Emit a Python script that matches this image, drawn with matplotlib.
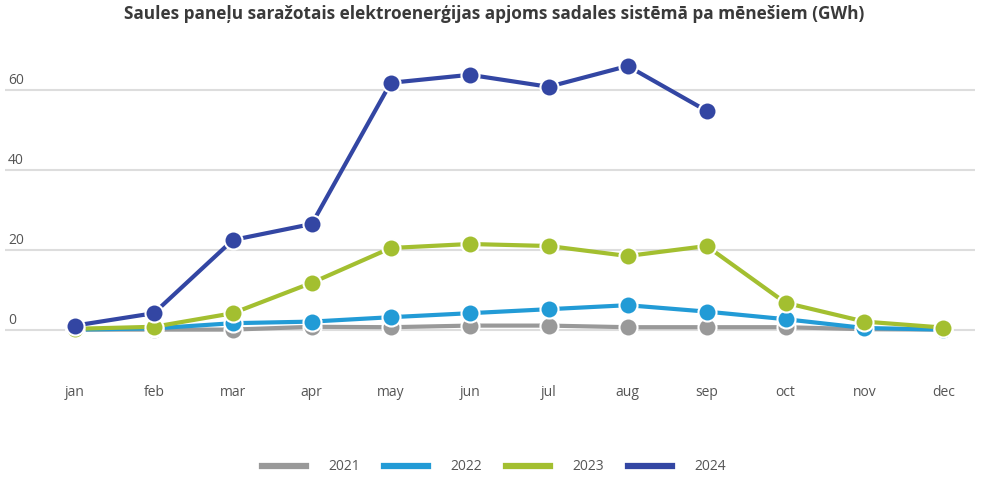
import matplotlib
matplotlib.use("Agg")
import matplotlib.pyplot as plt
import matplotlib.transforms as mtransforms

months = ["jan", "feb", "mar", "apr", "may", "jun", "jul", "aug", "sep", "oct", "nov", "dec"]
years = ["2021", "2022", "2023", "2024"]
v2021 = [0.1, 0.1, 0.1, 0.8, 0.7, 1.1, 1.1, 0.7, 0.7, 0.7, 0.2, 0.1]
v2022 = [0.1, 0.4, 1.7, 2.1, 3.2, 4.2, 5.2, 6.2, 4.6, 2.7, 0.5, 0.1]
v2023 = [0.3, 0.8, 4.2, 11.8, 20.5, 21.5, 21.0, 18.5, 21.0, 6.8, 2.1, 0.6]
v2024 = [1.1, 4.2, 22.5, 26.5, 61.8, 63.8, 60.8, 66.0, 54.8]
yticks = [0, 20, 40, 60]
colors = ["#999999", "#229bd6", "#a3bf30", "#3346a3"]
title = "Saules paneļu saražotais elektroenerģijas apjoms sadales sistēmā pa mēnešiem (GWh)"

plt.rcParams['font.family'] = ['Open Sans', 'DejaVu Sans']

fig = plt.figure(figsize=(9.88, 4.8), dpi=100)
ax = fig.add_axes([5/988, 110/480, 970/988, 320/480])

series = [v2021, v2022, v2023, v2024]
for i, (vals, c, lab) in enumerate(zip(series, colors, years)):
    x = list(range(len(vals)))
    ax.plot(x, vals, color=c, lw=3, marker='o', ms=13, mec='white', mew=1.5,
            label=lab, zorder=3 + i, solid_capstyle='butt')

ax.set_xlim(-0.886, 11.4)
ax.set_ylim(-10, 70)
for y in yticks:
    ax.axhline(y, color='#dddddd', lw=1.5, zorder=1)
trans = mtransforms.blended_transform_factory(ax.transAxes, ax.transData)
for y in yticks:
    ax.text(0.003, y + 0.4, str(y), transform=trans, ha='left', va='bottom',
            fontsize=10, color='#555555')

ax.set_xticks(range(12))
ax.set_xticklabels(months, fontsize=10, color='#555555')
ax.tick_params(axis='x', length=0, pad=11)
ax.set_yticks([])
for s in ax.spines.values():
    s.set_visible(False)

fig.text(0.5, 1 - 14/480, title, ha='center', va='center', fontsize=12.4,
         fontweight='bold', color='#3a3a3a')

handles = [plt.Line2D([0], [0], color=c, lw=4.5) for c in colors]
fig.legend(handles, years, loc='center', bbox_to_anchor=(0.5, 1 - 467/480), ncol=4,
           frameon=False, handlelength=3.2, handletextpad=1.6, columnspacing=1.7,
           fontsize=10, labelcolor='#555555')

fig.savefig("out.png", dpi=100)
